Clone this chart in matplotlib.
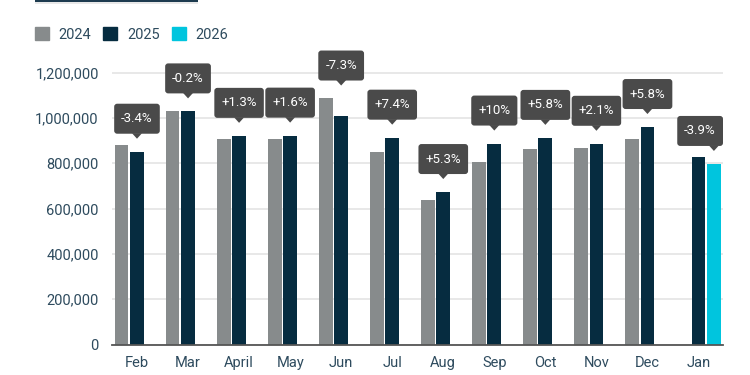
import matplotlib
matplotlib.use('Agg')
import matplotlib.pyplot as plt
import matplotlib.transforms as mtransforms
from matplotlib.patches import Patch, Rectangle, FancyBboxPatch, Polygon
import numpy as np

plt.rcParams['font.family'] = ['Roboto', 'DejaVu Sans']

months = ['Feb', 'Mar', 'April', 'May', 'Jun', 'Jul', 'Aug', 'Sep', 'Oct', 'Nov', 'Dec', 'Jan']
v2024 = [881000, 1031000, 909000, 907000, 1088000, 850000, 638000, 807000, 862000, 866000, 907000, np.nan]
v2025 = [851000, 1029000, 921000, 922000, 1009000, 913000, 673000, 887000, 912000, 886000, 960000, 829000]
v2026 = [np.nan] * 11 + [797000]
changes = ['-3.4%', '-0.2%', '+1.3%', '+1.6%', '-7.3%', '+7.4%', '+5.3%', '+10%',
           '+5.8%', '+2.1%', '+5.8%', '-3.9%']
yticks = [0, 200000, 400000, 600000, 800000, 1000000, 1200000]

c24, c25, c26 = '#878b8c', '#062c40', '#00c5de'
txt = '#2e4b5e'
boxc = '#4a4a4a'

fig = plt.figure(figsize=(7.5, 3.75), dpi=100)
ax = fig.add_axes([0.1493, 0.0813, 0.8147, 0.731])

x = np.arange(len(months))
slot = 0.302
bw = 0.269
ax.bar(x - slot, v2024, bw, color=c24, zorder=2)
ax.bar(x, v2025, bw, color=c25, zorder=2)
ax.bar(x + slot, v2026, bw, color=c26, zorder=2)

ax.set_xlim(-0.49, 11.48)
ax.set_ylim(0, 1210000)
ax.set_yticks(yticks)
ax.set_yticklabels(['{:,}'.format(t) for t in yticks])
ax.set_xticks(x)
ax.set_xticklabels(months)
ax.tick_params(axis='both', length=0, labelsize=10.5, labelcolor=txt)
ax.tick_params(axis='y', pad=9.5)
ax.tick_params(axis='x', pad=8)
ax.grid(axis='y', color='#e6e6e6', lw=1.3, zorder=0)
ax.set_axisbelow(True)
for s in ['top', 'right', 'left']:
    ax.spines[s].set_visible(False)
ax.spines['bottom'].set_color('#555555')
ax.spines['bottom'].set_linewidth(1.3)
ax.spines['bottom'].set_zorder(3)

# change callouts on the latest bar of each month (sizes in pixels)
fig.canvas.draw()
renderer = fig.canvas.get_renderer()
right_px = ax.transAxes.transform((1, 0))[0]
box_h = 30
for i, lab in enumerate(changes):
    if not np.isnan(v2026[i]):
        xl, v = x[i] + slot, v2026[i]
    else:
        xl, v = x[i], v2025[i]
    vmax = np.nanmax([v2024[i], v2025[i], v2026[i]])
    # bump the callout up if it would sit on a taller bar of the group
    h_v = ax.transData.transform((xl, v))[1]
    h_max = ax.transData.transform((xl, vmax))[1]
    tip = 13
    if h_v + tip + 5 < h_max + 3:
        tip = h_max + 12.5 - h_v
    anchor = mtransforms.ScaledTranslation(xl, v, ax.transData)
    t = ax.text(0, tip + 20, lab, transform=mtransforms.IdentityTransform() + anchor,
                ha='center', va='center', color='white', fontsize=9.5,
                clip_on=False, zorder=5)
    tw = t.get_window_extent(renderer).width
    box_w = tw + 14
    px = ax.transData.transform((xl, v))[0]
    shift = min(0, right_px - (px + box_w / 2))
    t.set_x(shift)
    box = FancyBboxPatch((shift - box_w / 2 + 3, tip + 5 + 3), box_w - 6, box_h - 6,
                         boxstyle='round,pad=3', fc=boxc, ec='none',
                         transform=mtransforms.IdentityTransform() + anchor,
                         clip_on=False, zorder=4)
    ax.add_artist(box)
    tri = Polygon([(-5, tip + 5.5), (5, tip + 5.5), (0, tip)], closed=True, fc=boxc, ec='none',
                  transform=mtransforms.IdentityTransform() + anchor,
                  clip_on=False, zorder=4)
    ax.add_artist(tri)

handles = [Patch(color=c24, label='2024'), Patch(color=c25, label='2025'),
           Patch(color=c26, label='2026')]
leg = fig.legend(handles=handles, loc='center left', bbox_to_anchor=(35 / 750, 1 - 34.5 / 375),
                 ncol=3, frameon=False, fontsize=10.5, handlelength=0.95, handleheight=0.95,
                 handletextpad=0.66, columnspacing=0.84, borderpad=0, borderaxespad=0)
for t in leg.get_texts():
    t.set_color(txt)

# header strip peeking in at the top
fig.patches.append(Rectangle((35 / 750, 1 - 4 / 375), 163 / 750, 3 / 375, transform=fig.transFigure,
                             fc='#e8e8e8', ec='none'))
fig.patches.append(Rectangle((35 / 750, 1 - 2 / 375), 163 / 750, 2 / 375, transform=fig.transFigure,
                             fc='#1d3b4f', ec='none'))

fig.savefig('out.png', dpi=100)
